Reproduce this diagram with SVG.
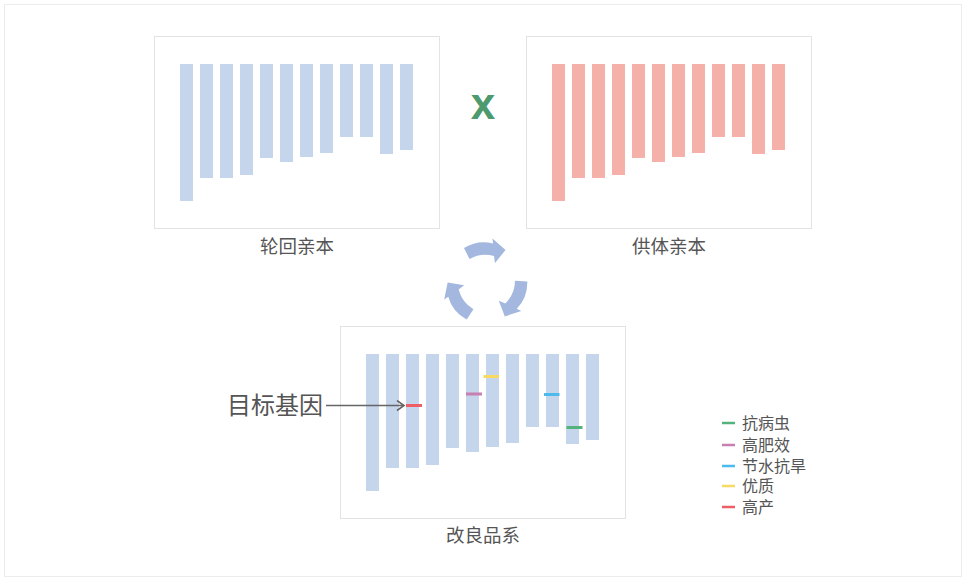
<svg xmlns="http://www.w3.org/2000/svg" xmlns:xlink="http://www.w3.org/1999/xlink" width="966" height="582" viewBox="0 0 966 582">
<style>
.frame{fill:#fff;stroke:#ececec;stroke-width:1}
.panel{fill:#fff;stroke:#e3e3e3;stroke-width:1}
.lbl{font-family:"Noto Sans CJK SC","Noto Sans",sans-serif;font-size:18.5px;fill:#555;text-anchor:middle}
.leg{font-family:"Noto Sans CJK SC","Noto Sans",sans-serif;font-size:16px;fill:#555}
.big{font-family:"Noto Sans CJK SC","Noto Sans",sans-serif;font-size:24px;fill:#555;text-anchor:end}
.cyc{fill:#a3b7df}
.mk{stroke-width:3;fill:none}
</style>
<defs>
<g id="bars">
<rect x="0" y="0" width="13" height="137"/>
<rect x="20" y="0" width="13" height="114"/>
<rect x="40" y="0" width="13" height="114"/>
<rect x="60" y="0" width="13" height="111"/>
<rect x="80" y="0" width="13" height="94"/>
<rect x="100" y="0" width="13" height="98"/>
<rect x="120" y="0" width="13" height="93"/>
<rect x="140" y="0" width="13" height="89"/>
<rect x="160" y="0" width="13" height="73"/>
<rect x="180" y="0" width="13" height="73"/>
<rect x="200" y="0" width="13" height="90"/>
<rect x="220" y="0" width="13" height="86"/>
</g>
<path id="cycArrow" d="M464,248 Q478,239.5 493,243.5 L492.5,238.5 L505.5,250 L495,263 L494,256 Q481,252.5 469.5,259 Z"/>
<marker id="chev" markerWidth="10" markerHeight="12" refX="8" refY="6" orient="auto" markerUnits="userSpaceOnUse">
<path d="M1,1 L8,6 L1,11" fill="none" stroke="#666" stroke-width="1.6"/>
</marker>
</defs>
<rect class="frame" x="4.5" y="4.5" width="957" height="572"/>

<g id="recurrent-parent">
<rect class="panel" x="154.5" y="36.5" width="285" height="192"/>
<use xlink:href="#bars" x="180" y="64" fill="#c4d5ec"/>
<text class="lbl" x="297" y="252.5">轮回亲本</text>
</g>

<g id="cross">
<text x="483" y="119" font-family="Liberation Sans, Arial, sans-serif" font-size="44" font-weight="bold" fill="#4d9a6e" text-anchor="middle">x</text>
</g>

<g id="donor-parent">
<rect class="panel" x="526.5" y="36.5" width="285" height="192"/>
<use xlink:href="#bars" x="552" y="64" fill="#f4b0a9"/>
<text class="lbl" x="669" y="252.5">供体亲本</text>
</g>

<g id="improved-line">
<rect class="panel" x="340.5" y="326.5" width="285" height="192"/>
<use xlink:href="#bars" x="366" y="354" fill="#c4d5ec"/>
<line class="mk" x1="406" y1="405.5" x2="422" y2="405.5" stroke="#ef5d66"/>
<line class="mk" x1="466" y1="394" x2="482" y2="394" stroke="#c87fb1"/>
<line class="mk" x1="483.5" y1="376.5" x2="499" y2="376.5" stroke="#f8d961"/>
<line class="mk" x1="544" y1="394.5" x2="559.5" y2="394.5" stroke="#4cbbec"/>
<line class="mk" x1="566.5" y1="427.5" x2="582.5" y2="427.5" stroke="#54b27c"/>
<text class="lbl" x="483" y="542">改良品系</text>
</g>

<g id="target-gene">
<text class="big" x="323" y="414">目标基因</text>
</g>

<g id="legend">
<line x1="722" y1="423" x2="735" y2="423" stroke="#54b27c" stroke-width="2.5"/>
<text class="leg" x="742" y="429">抗病虫</text>
<line x1="722" y1="445" x2="735" y2="445" stroke="#c87fb1" stroke-width="2.5"/>
<text class="leg" x="742" y="451">高肥效</text>
<line x1="722" y1="466" x2="735" y2="466" stroke="#4cbbec" stroke-width="2.5"/>
<text class="leg" x="742" y="472">节水抗旱</text>
<line x1="722" y1="486" x2="735" y2="486" stroke="#f8d961" stroke-width="2.5"/>
<text class="leg" x="742" y="492">优质</text>
<line x1="722" y1="507" x2="735" y2="507" stroke="#ef5d66" stroke-width="2.5"/>
<text class="leg" x="742" y="513">高产</text>
</g>

<g id="connectors">
<line x1="326" y1="405.5" x2="404" y2="405.5" stroke="#666" stroke-width="1.4" marker-end="url(#chev)"/>
<use xlink:href="#cycArrow" class="cyc"/>
<use xlink:href="#cycArrow" class="cyc" transform="rotate(120 486 283)"/>
<use xlink:href="#cycArrow" class="cyc" transform="rotate(240 486 283)"/>
</g>
</svg>
